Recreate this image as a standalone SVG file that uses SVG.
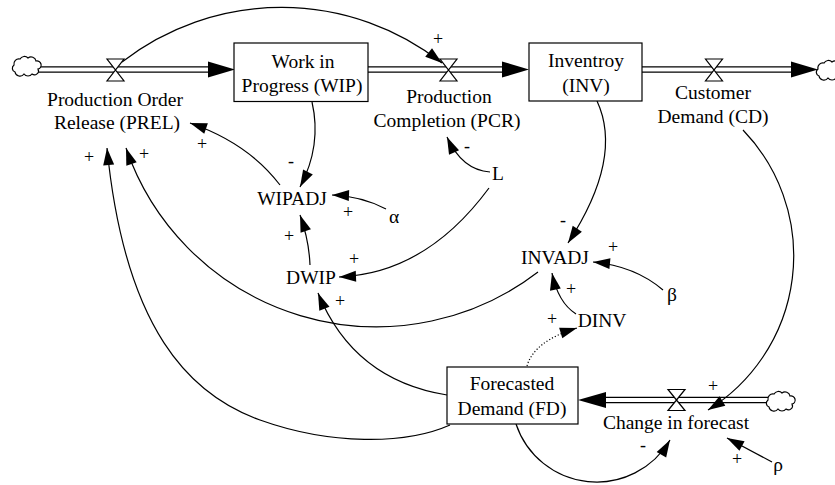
<svg xmlns="http://www.w3.org/2000/svg" width="835" height="485" viewBox="0 0 835 485" font-family="'Liberation Serif', Tinos, 'Times New Roman', 'DejaVu Serif', serif">
<defs>
<style>
.t{font-family:'Liberation Serif',Tinos,'Times New Roman','DejaVu Serif',serif;font-size:19.5px;text-anchor:middle;fill:#000}
.s{font-family:'Liberation Serif',Tinos,'Times New Roman','DejaVu Serif',serif;font-size:18px;text-anchor:middle;fill:#000}
.box{fill:#fff;stroke:#000;stroke-width:1.2}
.link{fill:none;stroke:#000;stroke-width:1.2;marker-end:url(#ah)}
.dot{stroke-dasharray:1.2,2}
.pipeo{fill:none;stroke:#000;stroke-width:6.5}
.pipei{fill:none;stroke:#fff;stroke-width:4}
.valve{fill:#fff;stroke:#000;stroke-width:1.2}
.cloud{fill:#fff;stroke:#000;stroke-width:1.2}
.head{fill:#000;stroke:none}
</style>
<marker id="ah" markerUnits="userSpaceOnUse" markerWidth="18" markerHeight="12" viewBox="0 0 18 12" refX="17" refY="6" orient="auto" overflow="visible">
<path d="M0,0.5 L17,6 L0,11.5 z" fill="#000"/>
</marker>
<path id="cl" d="M-11,6 a4,4 0 0,1 -1,-7 a5,5 0 0,1 6,-6 a5,5 0 0,1 8,-1 a5,5 0 0,1 8,3 a4,4 0 0,1 2,8 a4,4 0 0,1 -6,5 a5,5 0 0,1 -8,0 a5,5 0 0,1 -9,-2 z"/>
</defs>
<rect width="835" height="485" fill="#fff"/>

<g id="connectors">
 <g id="pipes">
  <path class="pipeo" d="M37,69.5 H209"/><path class="pipei" d="M37,69.5 H209"/>
  <polygon class="head" points="208,61.5 235,69.5 208,77.5"/>
  <path class="pipeo" d="M368,69.5 H503"/><path class="pipei" d="M368,69.5 H503"/>
  <polygon class="head" points="502,61.5 529,69.5 502,77.5"/>
  <path class="pipeo" d="M642,69.5 H792"/><path class="pipei" d="M642,69.5 H792"/>
  <polygon class="head" points="791,61.5 818,69.5 791,77.5"/>
  <path class="pipeo" d="M606,400 H770"/><path class="pipei" d="M606,400 H770"/>
  <polygon class="head" points="606,392 578,400 606,408"/>
 </g>
 <g id="links">
  <path class="link" d="M122,62 A260,260 0 0,1 442,63"/>
  <path class="link" d="M312,102 Q322,145.5 300,187"/>
  <path class="link" d="M280,185 Q248,143 190,123"/>
  <path class="link" d="M386,209 Q361,196 332,195"/>
  <path class="link" d="M310,265 Q309,240 300,215"/>
  <path class="link" d="M490,172 Q462,170 447,137"/>
  <path class="link" d="M489,188 Q426,273.5 339,277"/>
  <path class="link" d="M597,101 Q623.5,158 568,243"/>
  <path class="link" d="M663,290 Q635,266 593,262"/>
  <path class="link" d="M576,314 Q558,302.5 552,273"/>
  <path class="link dot" d="M527,366 Q534,341 577,328"/>
  <path class="link" d="M538,272 A265,265 0 0,1 126,148"/>
  <path class="link" d="M447,395 Q353.5,380 318,293"/>
  <path class="link" d="M450,425 C405,445 330,445 260,420 C190,395 125,330 107,148"/>
  <path class="link" d="M516,424 A85,85 0 0,0 670,440"/>
  <path class="link" d="M743,130 A181.5,181.5 0 0,1 708,410"/>
  <path class="link" d="M772,462 L727,438"/>
 </g>
 <g id="polarities">
  <text class="s" x="438" y="45">+</text>
  <text class="s" x="291" y="167">-</text>
  <text class="s" x="202" y="150">+</text>
  <text class="s" x="348" y="218">+</text>
  <text class="s" x="289" y="242">+</text>
  <text class="s" x="467" y="152">-</text>
  <text class="s" x="354" y="265">+</text>
  <text class="s" x="563" y="226">-</text>
  <text class="s" x="613" y="253">+</text>
  <text class="s" x="571" y="295">+</text>
  <text class="s" x="552" y="325">+</text>
  <text class="s" x="144" y="160">+</text>
  <text class="s" x="340" y="307">+</text>
  <text class="s" x="89" y="163">+</text>
  <text class="s" x="643" y="451">-</text>
  <text class="s" x="713" y="392">+</text>
  <text class="s" x="737" y="465">+</text>
 </g>
</g>

<g id="cloud1"><use href="#cl" class="cloud" x="26" y="66"/></g>
<g id="cloud2"><use href="#cl" class="cloud" x="830" y="70"/></g>
<g id="cloud3"><use href="#cl" class="cloud" x="780" y="401"/></g>

<g id="PREL">
 <path class="valve" d="M107,59 H124 L107,81 H124 Z"/>
 <text class="t" x="115" y="106">Production Order</text>
 <text class="t" x="117" y="129">Release (PREL)</text>
</g>
<g id="WIP">
 <rect class="box" x="234" y="43" width="134" height="58.5"/>
 <text class="t" x="303" y="68">Work in</text>
 <text class="t" x="302" y="92">Progress (WIP)</text>
</g>
<g id="PCR">
 <path class="valve" d="M440,59 H457 L440,81 H457 Z"/>
 <text class="t" x="449" y="103">Production</text>
 <text class="t" x="447" y="127">Completion (PCR)</text>
</g>
<g id="INV">
 <rect class="box" x="529" y="43" width="113" height="58"/>
 <text class="t" x="586" y="67">Inventroy</text>
 <text class="t" x="586" y="92">(INV)</text>
</g>
<g id="CD">
 <path class="valve" d="M705.5,59 H722.5 L705.5,81 H722.5 Z"/>
 <text class="t" x="713" y="99">Customer</text>
 <text class="t" x="713" y="123">Demand (CD)</text>
</g>
<g id="FD">
 <rect class="box" x="447" y="367" width="131" height="57"/>
 <text class="t" x="512" y="390">Forecasted</text>
 <text class="t" x="512" y="415">Demand (FD)</text>
</g>
<g id="CIF">
 <path class="valve" d="M668,389.5 H685 L668,410.5 H685 Z"/>
 <text class="t" x="676" y="429">Change in forecast</text>
</g>
<g id="WIPADJ"><text class="t" x="292" y="205">WIPADJ</text></g>
<g id="alpha"><text class="t" x="394" y="223">α</text></g>
<g id="DWIP"><text class="t" x="311" y="284">DWIP</text></g>
<g id="L"><text class="t" x="498" y="180">L</text></g>
<g id="INVADJ"><text class="t" x="555" y="264">INVADJ</text></g>
<g id="beta"><text class="t" x="672" y="301">β</text></g>
<g id="DINV"><text class="t" x="602" y="327">DINV</text></g>
<g id="rho"><text class="t" x="778" y="471">ρ</text></g>
</svg>
